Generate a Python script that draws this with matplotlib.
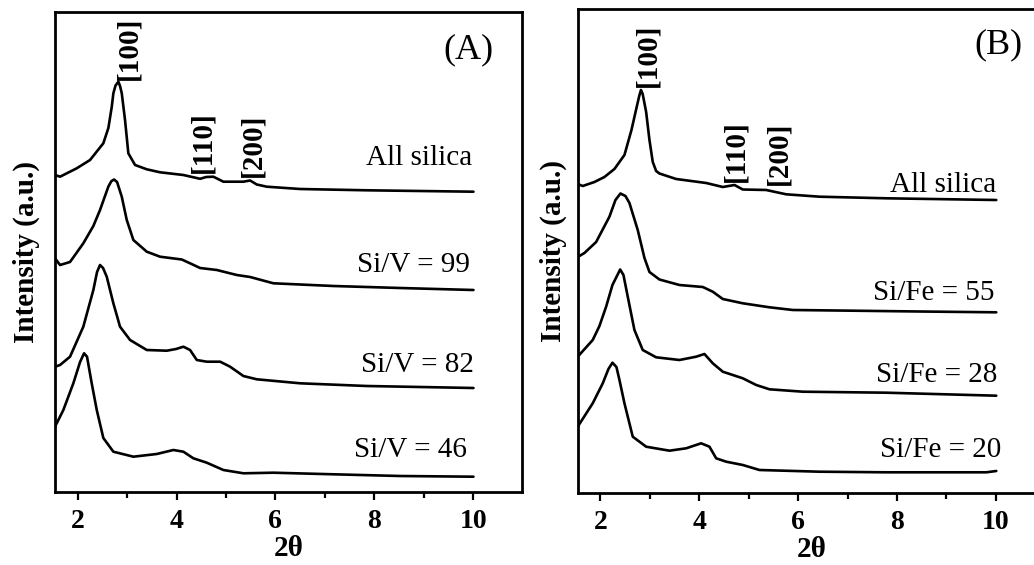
import numpy as np
import matplotlib
matplotlib.use("Agg")
import matplotlib.pyplot as plt
from matplotlib.ticker import MultipleLocator, NullLocator

plt.rcParams['font.family'] = ['Liberation Serif', 'DejaVu Serif']

# ---------------- Panel A data (2theta, intensity a.u.) ----------------
a_silica_x = [1.540, 1.642, 1.980, 2.249, 2.518, 2.620, 2.688, 2.721, 2.765, 2.822, 2.856,
              2.891, 2.957, 3.024, 3.160, 3.397, 3.666, 4.138, 4.476, 4.600, 4.745, 4.947,
              5.352, 5.488, 5.623, 5.826, 6.500, 7.850, 8.929, 10.008]
a_silica_y = [17, 15.3, 23.7, 32, 48.7, 64, 85, 98.7, 106.5, 110.3, 106,
              98.7, 72, 38.7, 27, 22.7, 19.7, 17, 13.2, 15, 15.3, 10.3,
              10.3, 11.5, 7.5, 5.3, 3, 1.7, 1, 0.3]

a_v99_x = [1.540, 1.642, 1.844, 2.113, 2.316, 2.451, 2.619, 2.680, 2.735, 2.796, 2.891,
           2.992, 3.126, 3.397, 3.666, 4.105, 4.273, 4.476, 4.814, 5.219, 5.488, 5.960,
           7.174, 8.524, 10.008]
a_v99_y = [31.7, 25, 28, 46.7, 64, 80, 103.3, 108.8, 110.5, 108, 93.3,
           70, 50, 38.3, 33.3, 30.5, 26.7, 22, 20, 15, 13, 6.7,
           4, 2, 0]

a_v82_x = [1.540, 1.642, 1.844, 2.113, 2.316, 2.391, 2.451, 2.512, 2.587, 2.721, 2.856,
           3.059, 3.397, 3.802, 3.990, 4.138, 4.273, 4.409, 4.611, 4.883, 5.083, 5.352,
           5.623, 6.500, 7.850, 10.008]
a_v82_y = [21.3, 23, 31.3, 61.3, 98, 116, 123, 120, 111.3, 84.7, 61.3,
           48, 38, 37.3, 39, 41.3, 38, 28, 26.3, 26.3, 21.3, 12,
           8.7, 4.7, 2, 0]

a_v46_x = [1.540, 1.709, 1.911, 2.047, 2.128, 2.188, 2.283, 2.385, 2.518, 2.721, 3.126,
           3.599, 3.935, 4.138, 4.340, 4.611, 4.947, 5.352, 5.960, 7.174, 8.524, 10.008]
a_v46_y = [50, 66.7, 93.4, 114.7, 123.4, 120, 93.4, 66.7, 38.7, 25, 20,
           22.7, 26.7, 25, 18.4, 14, 6.7, 3.4, 4, 2.4, 0.7, 0]

a_labels = ['All silica', 'Si/V = 99', 'Si/V = 82', 'Si/V = 46']

# ---------------- Panel B data ----------------
b_silica_x = [1.540, 1.642, 1.879, 2.081, 2.283, 2.486, 2.628, 2.729, 2.785, 2.820, 2.855,
              2.925, 2.992, 3.059, 3.127, 3.194, 3.532, 4.140, 4.476, 4.713, 4.881, 5.354,
              5.759, 6.433, 7.783, 10.010]
b_silica_y = [16, 14, 18, 23, 31, 45, 70, 92, 104, 110, 106,
              88, 60, 38, 29, 26.5, 21, 17, 13, 15, 10.5, 10,
              5.7, 3.3, 1.7, 0]

b_fe55_x = [1.540, 1.676, 1.913, 2.182, 2.304, 2.405, 2.506, 2.587, 2.755, 2.891, 2.992,
            3.194, 3.599, 4.071, 4.273, 4.476, 4.881, 5.421, 5.893, 7.107, 8.457, 10.010]
b_fe55_y = [55.3, 59.3, 70.3, 95.6, 112.3, 118.8, 116.3, 109.3, 82.3, 54.3, 40.3,
            32.8, 27.3, 25.3, 20.6, 13.3, 9, 5, 2.3, 1.6, 0.8, 0]

b_fe28_x = [1.540, 1.844, 1.980, 2.115, 2.243, 2.399, 2.466, 2.553, 2.688, 2.856, 3.127,
            3.599, 3.937, 4.105, 4.273, 4.476, 4.881, 5.152, 5.421, 6.095, 7.783, 10.010]
b_fe28_y = [39, 55.7, 69.7, 89, 110.7, 126.2, 120.7, 99, 65.7, 45.7, 38.4,
            35.7, 39, 41.7, 32.4, 24, 17.4, 10.7, 6.4, 4, 3, 0]

b_fe20_x = [1.540, 1.844, 2.047, 2.162, 2.243, 2.324, 2.385, 2.486, 2.654, 2.925, 3.397,
            3.735, 4.038, 4.206, 4.342, 4.545, 4.881, 5.219, 6.433, 7.783, 9.808, 10.010]
b_fe20_y = [44.8, 68.2, 88.2, 102.5, 108.8, 104.5, 91.5, 68.2, 34.8, 24.8, 20.8,
            23.2, 28.2, 24.8, 13.2, 9.8, 6.5, 1.5, -0.2, -0.8, -0.8, 0.5]

b_labels = ['All silica', 'Si/Fe = 55', 'Si/Fe = 28', 'Si/Fe = 20']

xticks = [2, 4, 6, 8, 10]
peak_labels = ['[100]', '[110]', '[200]']

# ---------------- figure ----------------
fig = plt.figure(figsize=(10.34, 5.65), dpi=100)
W, H = 1034.0, 565.0

def make_axes(left_px, right_px, top_px, bottom_px):
    return fig.add_axes([left_px / W, (H - bottom_px) / H,
                         (right_px - left_px) / W, (bottom_px - top_px) / H])

axA = make_axes(55, 522, 12, 492)
axB = make_axes(577.7, 577.7 + 467, 9, 493)

lw = 1.9
offsA = [300, 202, 104, 15.3]
offsB = [293, 180.7, 97.3, 21.5]

seriesA = [(a_silica_x, a_silica_y), (a_v99_x, a_v99_y), (a_v82_x, a_v82_y), (a_v46_x, a_v46_y)]
seriesB = [(b_silica_x, b_silica_y), (b_fe55_x, b_fe55_y), (b_fe28_x, b_fe28_y), (b_fe20_x, b_fe20_y)]

for ax, series, offs in [(axA, seriesA, offsA), (axB, seriesB, offsB)]:
    for (xs, ys), off in zip(series, offs):
        ax.plot(xs, np.array(ys) + off, color='black', lw=lw,
                solid_joinstyle='round', solid_capstyle='round')

axA.set_ylim(0, 480)
axB.set_ylim(0, 484)

for ax, lp in ((axA, 11), (axB, 8)):
    ax.set_xlim(1.54, 10.99)
    ax.set_xticks(xticks)
    ax.set_xticklabels([str(t) for t in xticks], fontweight='bold', fontsize=20)
    ax.xaxis.set_minor_locator(MultipleLocator(1))
    ax.yaxis.set_major_locator(NullLocator())
    ax.tick_params(axis='x', which='major', direction='out', length=6, width=1.6, pad=6, top=False)
    ax.tick_params(axis='x', which='minor', direction='out', length=4.5, width=1.6, top=False)
    for s in ax.spines.values():
        s.set_linewidth(2.0)
    ax.set_xlabel('2θ', fontweight='bold', fontsize=21, labelpad=1)
    ax.set_ylabel('Intensity (a.u.)', fontweight='bold', fontsize=21, labelpad=lp)

# curve labels
for t, (x, y) in zip(a_labels, [(9.976, 327), (9.94, 220.3), (10.008, 120.3), (9.875, 35.3)]):
    axA.text(x, y, t, ha='right', va='baseline', fontsize=21)
for t, (x, y) in zip(b_labels, [(10.01, 301.3), (9.976, 193), (10.04, 111.3), (10.11, 36.3)]):
    axB.text(x, y, t, ha='right', va='baseline', fontsize=21)

# peak labels
for t, (x, y) in zip(peak_labels, [(3.04, 412), (4.54, 319), (5.55, 315)]):
    axA.text(x, y, t, rotation=90, ha='center', va='bottom', fontsize=21, fontweight='bold')
for t, (x, y) in zip(peak_labels, [(2.95, 406), (4.747, 311.3), (5.62, 308)]):
    axB.text(x, y, t, rotation=90, ha='center', va='bottom', fontsize=21, fontweight='bold')

axA.text(9.90, 442, '(A)', ha='center', va='center', fontsize=26)
axB.text(10.06, 448, '(B)', ha='center', va='center', fontsize=26)

fig.savefig('out.png', dpi=100)
